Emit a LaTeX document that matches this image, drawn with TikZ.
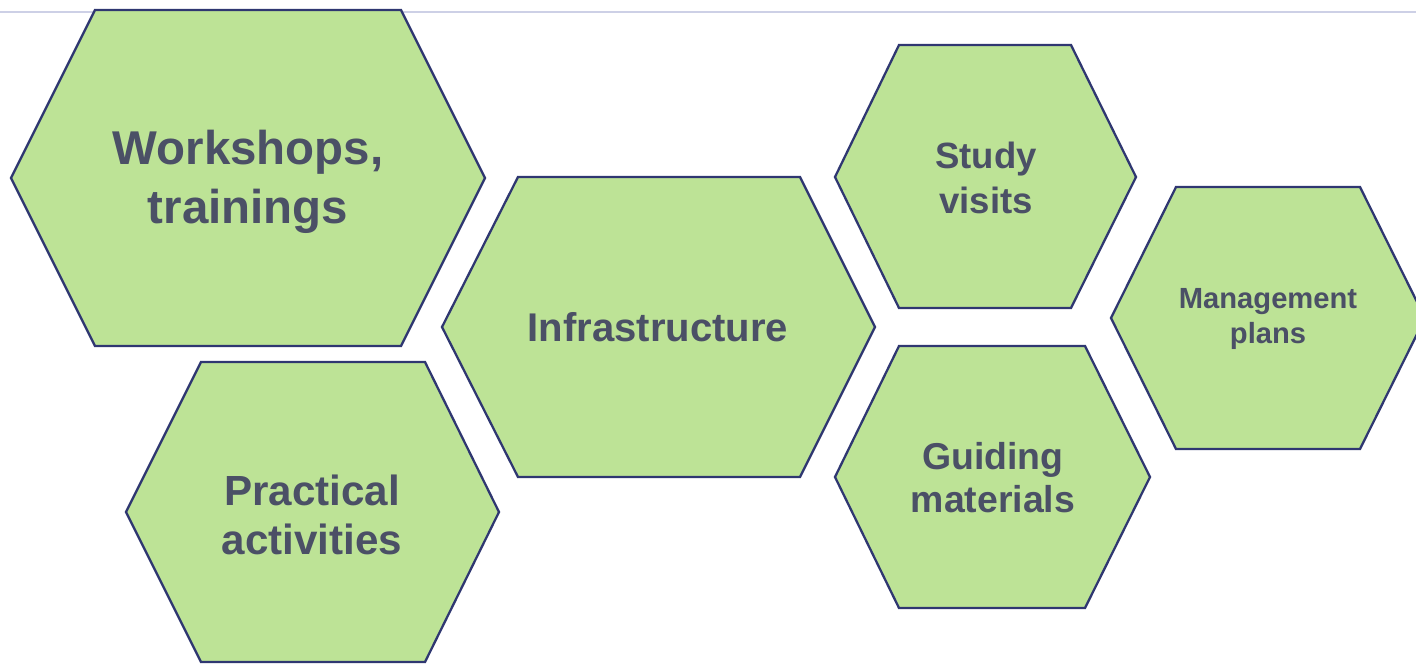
\documentclass[tikz,border=0pt]{standalone}
\usepackage{fontspec}
\setmainfont{Liberation Sans}
\usepackage{tikz}

\definecolor{hexfill}{HTML}{BDE396}
\definecolor{hexline}{HTML}{2F3771}
\definecolor{hextext}{HTML}{4B5066}
\definecolor{topline}{HTML}{CDD0E6}

\tikzset{
  hexa/.style={fill=hexfill, draw=hexline, line width=1.3pt, line join=miter},
  lbl/.style={text=hextext, font=\bfseries, align=center, inner sep=0pt}
}

\begin{document}
\begin{tikzpicture}[x=0.02cm, y=-0.02cm]
          \useasboundingbox (0, 0) rectangle (1416, 664);
          \clip (0, 0) rectangle (1416, 664);
          \draw [topline, line width=1.3pt] (0, 12) -- (1416, 12);
          % hexagons
          \draw [hexa] (95, 10) -- (401, 10) -- (485, 178) -- (401, 346) -- (95, 346) -- (11, 178) -- cycle;
          \draw [hexa] (201, 362) -- (425, 362) -- (499, 512) -- (425, 662) -- (201, 662) -- (126, 512) -- cycle;
          \draw [hexa] (518, 177) -- (800, 177) -- (875, 327) -- (800, 477) -- (518, 477) -- (442, 327) -- cycle;
          \draw [hexa] (899, 45) -- (1071, 45) -- (1136, 177) -- (1071, 308) -- (899, 308) -- (835, 177) -- cycle;
          \draw [hexa] (899, 346) -- (1085, 346) -- (1150, 477) -- (1085, 608) -- (899, 608) -- (835, 477) -- cycle;
          \draw [hexa] (1176, 187) -- (1360, 187) -- (1425, 318) -- (1360, 449) -- (1176, 449) -- (1111, 318) -- cycle;
          % labels
          \node [lbl, font=\bfseries\fontsize{27}{33.5}\selectfont] (WS) at (248, 182) {Workshops,\\trainings};
          \node [lbl, font=\bfseries\fontsize{24}{27.5}\selectfont] (PA) at (312, 515) {Practical\\activities};
          \node [lbl, font=\bfseries\fontsize{22.8}{27.3}\selectfont] (IN) at (658, 327) {Infrastructure};
          \node [lbl, font=\bfseries\fontsize{20.8}{25.6}\selectfont] (SV) at (986, 178) {Study\\visits};
          \node [lbl, font=\bfseries\fontsize{21.3}{24.5}\selectfont] (GM) at (993, 478) {Guiding\\materials};
          \node [lbl, font=\bfseries\fontsize{16.6}{20}\selectfont] (MP) at (1268, 319) {Management\\plans};
  \end{tikzpicture}
\end{document}
